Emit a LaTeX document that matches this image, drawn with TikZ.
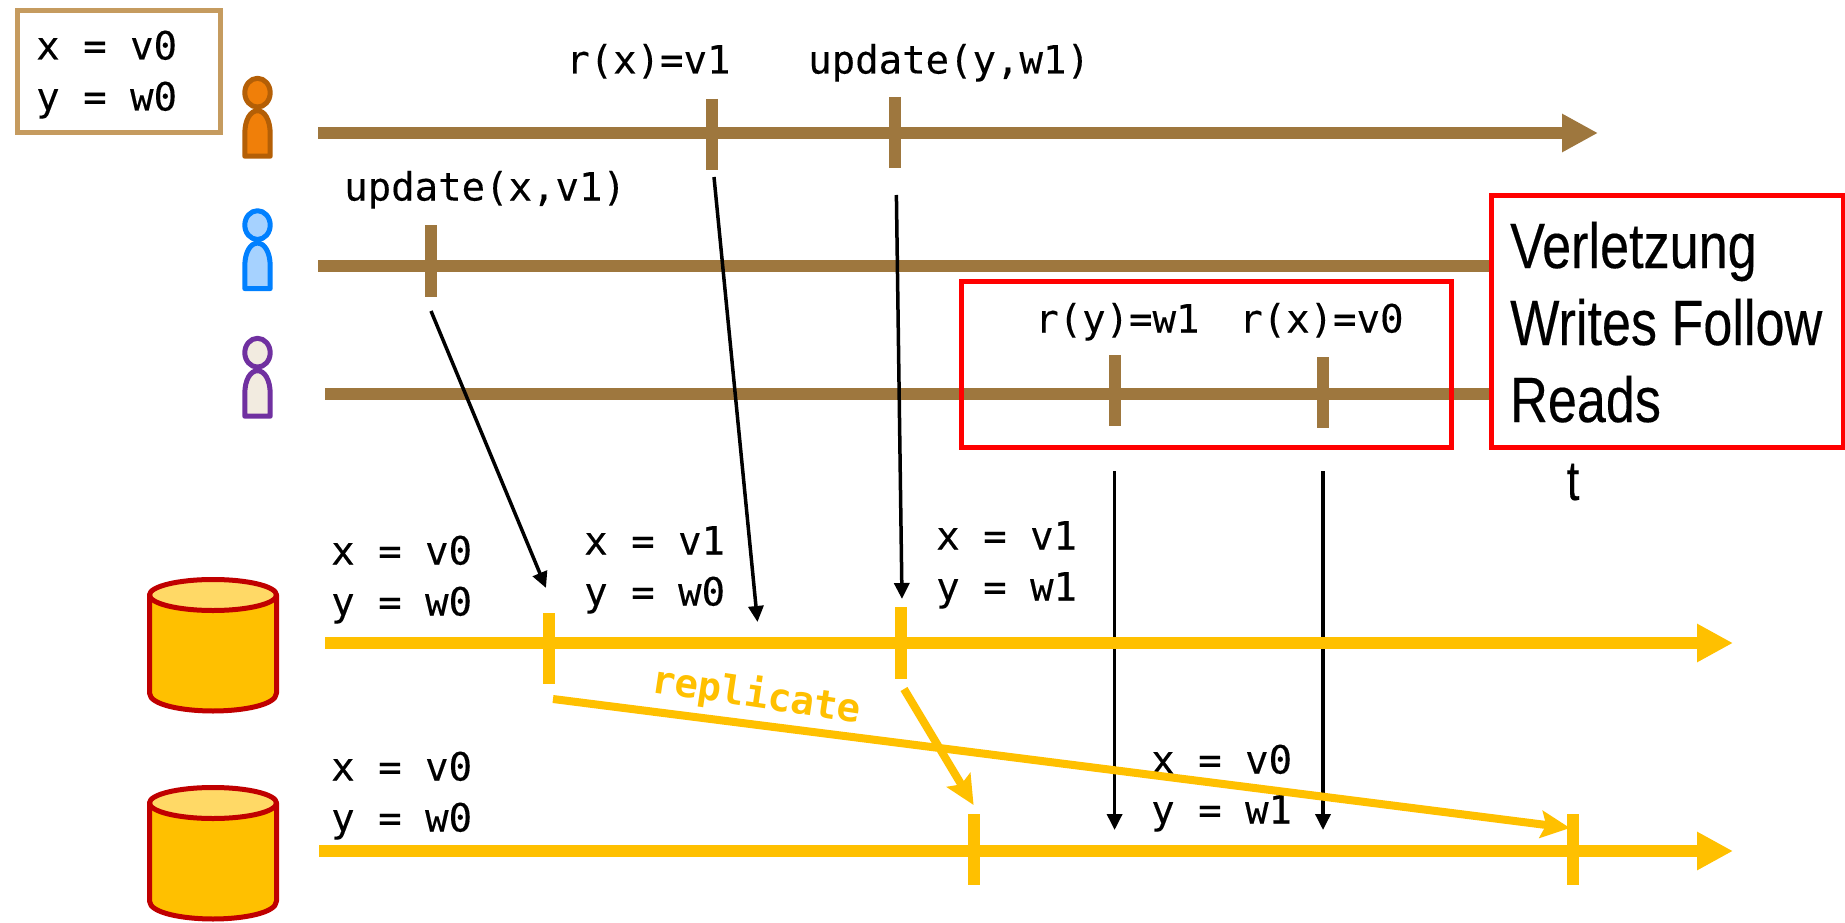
\documentclass[tikz,border=0pt]{standalone}
\usepackage{fontspec}
\usetikzlibrary{arrows.meta}
\setmonofont[FakeBold=0.25]{DejaVu Sans Mono}
\newfontfamily\narrowfont[FakeStretch=0.815,FakeBold=0.25]{Liberation Sans}
\newfontfamily\repfont{DejaVu Sans Mono Bold}
\definecolor{brownline}{HTML}{9E773E}
\definecolor{boxtan}{HTML}{C59B5F}
\definecolor{goldline}{HTML}{FFC000}
\definecolor{goldtop}{HTML}{FFD966}
\definecolor{cylred}{HTML}{C00000}
\definecolor{redbox}{HTML}{FF0000}
\definecolor{orangefill}{HTML}{F07F09}
\definecolor{orangeedge}{HTML}{B45F06}
\definecolor{bluefill}{HTML}{A6D2FF}
\definecolor{blueedge}{HTML}{0080FF}
\definecolor{creamfill}{HTML}{F2EBE0}
\definecolor{purpleedge}{HTML}{7030A0}
\tikzset{
  x=1pt,y=-1pt,
  monotext/.style={inner sep=0pt,anchor=base west,font=\fontsize{39}{39}\selectfont\ttfamily,text=black},
  bigtext/.style={inner sep=0pt,anchor=base west,font=\fontsize{64}{64}\selectfont\narrowfont,text=black},
  timeline/.style={line width=12pt},
  tickmark/.style={line width=12pt},
  msgarrow/.style={line width=3.5pt,black,-{Triangle[length=16pt,width=15pt]}},
  reparrow/.style={line width=8pt,goldline,-{Stealth[length=29pt,width=27pt,inset=5pt]}},
  bigarrow/.style={-{Triangle[length=36pt,width=36pt]}},
  framebox/.style={inner sep=0pt,outer sep=0pt,anchor=north west},
}
\newcommand{\personfig}[4]{%
  \begin{scope}[shift={(#1,#2)},line width=5pt,draw=#3,fill=#4,line join=round]
    \filldraw (-12.7,63.5) -- (-12.7,41) .. controls (-12.7,27) and (-7,18) .. (0,18) .. controls (7,18) and (12.7,27) .. (12.7,41) -- (12.7,63.5) -- cycle;
    \filldraw (0,0) ellipse [x radius=12.7,y radius=14.4];
  \end{scope}}
\newcommand{\cylfig}[2]{%
  \begin{scope}[shift={(#1,#2)},line width=5pt,draw=cylred,line join=round]
    \filldraw[fill=goldline] (-63.5,0) -- (-63.5,98) .. controls (-63.5,110) and (-30,116) .. (0,116) .. controls (30,116) and (63.5,110) .. (63.5,98) -- (63.5,0) -- cycle;
    \filldraw[fill=goldtop] (0,0) ellipse [x radius=63.5,y radius=15.5];
  \end{scope}}
\begin{document}
\begin{tikzpicture}
\useasboundingbox[fill=white] (0,0) rectangle (1845,923);
% legend box
\node[framebox,draw=boxtan,line width=5pt,minimum width=203pt,minimum height=122pt] (legend) at (17.5,10.5) {};
\node[monotext] (legendx) at (36,59.5) {x = v0};
\node[monotext] (legendy) at (36,110.5) {y = w0};
% persons
\personfig{257.5}{92.7}{orangeedge}{orangefill}
\personfig{257.5}{225.1}{blueedge}{bluefill}
\personfig{257.5}{352.7}{purpleedge}{creamfill}
% cylinders
\cylfig{213}{595}
\cylfig{213}{803}
% named ends
\coordinate (u1a) at (318,133);   \coordinate (u1b) at (1598,133);
\coordinate (u2a) at (318,266);   \coordinate (u2b) at (1491,266);
\coordinate (u3a) at (325,394);   \coordinate (u3b) at (1491,394);
\coordinate (d1a) at (325,643);   \coordinate (d1b) at (1733,643);
\coordinate (d2a) at (319,851);   \coordinate (d2b) at (1733,851);
% client timelines
\draw[timeline,brownline,bigarrow] (u1a) -- (u1b);
\draw[timeline,brownline] (u2a) -- (u2b);
\draw[timeline,brownline] (u3a) -- (u3b);
% client ticks
\coordinate (t1a) at (712,99);    \coordinate (t1b) at (712,170);
\coordinate (t2a) at (894.6,97);  \coordinate (t2b) at (894.6,168);
\coordinate (t3a) at (430.7,225); \coordinate (t3b) at (430.7,297);
\coordinate (t4a) at (1114.6,355);\coordinate (t4b) at (1114.6,426);
\coordinate (t5a) at (1322.7,357);\coordinate (t5b) at (1322.7,428);
\draw[tickmark,brownline] (t1a) -- (t1b);
\draw[tickmark,brownline] (t2a) -- (t2b);
\draw[tickmark,brownline] (t3a) -- (t3b);
\draw[tickmark,brownline] (t4a) -- (t4b);
\draw[tickmark,brownline] (t5a) -- (t5b);
% request arrows
\coordinate (m1a) at (431,311);    \coordinate (m1b) at (546,588);
\coordinate (m2a) at (714,177);    \coordinate (m2b) at (757.5,622);
\coordinate (m3a) at (896.4,195);  \coordinate (m3b) at (902,599);
\coordinate (m4a) at (1114.6,471); \coordinate (m4b) at (1114.6,830);
\coordinate (m5a) at (1323,471);   \coordinate (m5b) at (1323,830);
\draw[msgarrow] (m1a) -- (m1b);
\draw[msgarrow] (m2a) -- (m2b);
\draw[msgarrow] (m3a) -- (m3b);
\draw[msgarrow] (m4a) -- (m4b);
\draw[msgarrow] (m5a) -- (m5b);
% labels
\node[monotext] (lr1) at (566,73.5) {r(x)=v1};
\node[monotext] (lu2) at (808,73.5) {update(y,w1)};
\node[monotext] (lu1) at (344,200.5) {update(x,v1)};
\node[monotext] (lr2) at (1035,332.5) {r(y)=w1};
\node[monotext] (lr3) at (1239,332.5) {r(x)=v0};
\node[monotext] (s1x) at (331,564.5) {x = v0};
\node[monotext] (s1y) at (331,615.5) {y = w0};
\node[monotext] (s2x) at (584,554.5) {x = v1};
\node[monotext] (s2y) at (584,605.5) {y = w0};
\node[monotext] (s3x) at (936,549.5) {x = v1};
\node[monotext] (s3y) at (936,600.5) {y = w1};
\node[monotext] (s4x) at (331,780.5) {x = v0};
\node[monotext] (s4y) at (331,831.5) {y = w0};
\node[monotext] (s5x) at (1151,773.5) {x = v0};
\node[monotext] (s5y) at (1151,823.5) {y = w1};
% red frames
\node[framebox,draw=redbox,line width=5pt,minimum width=490.5pt,minimum height=166pt] (frame1) at (961,281) {};
\node[framebox,draw=redbox,fill=white,line width=5pt,minimum width=352pt,minimum height=252pt] (frame2) at (1491,195) {};
\node[bigtext] (v1) at (1510,268) {Verletzung};
\node[bigtext] (v2) at (1510,345) {Writes Follow};
\node[bigtext] (v3) at (1510,422) {Reads};
\node[inner sep=0pt,anchor=base,font=\fontsize{56}{56}\selectfont\narrowfont] (tlabel) at (1573,500) {t};
% server timelines
\draw[timeline,goldline,bigarrow] (d1a) -- (d1b);
\draw[timeline,goldline,bigarrow] (d2a) -- (d2b);
\coordinate (g1a) at (549,613);  \coordinate (g1b) at (549,684);
\coordinate (g2a) at (901,607);  \coordinate (g2b) at (901,679);
\coordinate (g3a) at (974,814);  \coordinate (g3b) at (974,885);
\coordinate (g4a) at (1573,814); \coordinate (g4b) at (1573,885);
\draw[tickmark,goldline] (g1a) -- (g1b);
\draw[tickmark,goldline] (g2a) -- (g2b);
\draw[tickmark,goldline] (g3a) -- (g3b);
\draw[tickmark,goldline] (g4a) -- (g4b);
% replication
\coordinate (r1a) at (553,699);  \coordinate (r1b) at (1570,828);
\coordinate (r2a) at (904,689);  \coordinate (r2b) at (973.6,805);
\draw[reparrow] (r1a) -- (r1b);
\draw[reparrow] (r2a) -- (r2b);
\node[inner sep=0pt,anchor=base west,rotate=-8.5,text=goldline,font=\fontsize{39}{39}\selectfont\repfont] (rep) at (650,692) {replicate};
\end{tikzpicture}
\end{document}
